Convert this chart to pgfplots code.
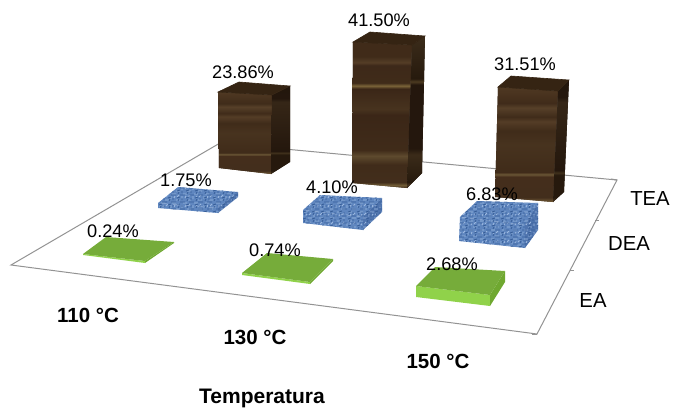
\documentclass[border=0pt]{standalone}
\usepackage{pgfplots}
\pgfplotsset{compat=1.18}
\usepackage{fontspec}
\setmainfont{Liberation Sans}
\usetikzlibrary{patterns}
\definecolor{grn}{HTML}{76AC3A}
\definecolor{grnl}{HTML}{90D24A}
\definecolor{grnd}{HTML}{6FA830}
\definecolor{blu}{HTML}{5F86BF}
\definecolor{blud}{HTML}{4F74AE}
\definecolor{blul}{HTML}{9DB9E0}
\definecolor{bluk}{HTML}{375E98}
\definecolor{topw}{HTML}{352413}
\definecolor{facew}{HTML}{332313}
\definecolor{sidew}{HTML}{1D1308}
\pgfdeclarepatternformonly{mottL}{\pgfqpoint{-1pt}{-1pt}}{\pgfqpoint{12pt}{10pt}}{\pgfqpoint{11pt}{9pt}}{
 \pgfsetlinewidth{0.9pt}
 \pgfpathmoveto{\pgfqpoint{0pt}{1pt}}\pgfpathlineto{\pgfqpoint{4pt}{1pt}}
 \pgfpathmoveto{\pgfqpoint{6pt}{2pt}}\pgfpathlineto{\pgfqpoint{6pt}{5pt}}
 \pgfpathmoveto{\pgfqpoint{1pt}{4pt}}\pgfpathlineto{\pgfqpoint{3pt}{6pt}}
 \pgfpathmoveto{\pgfqpoint{7pt}{7pt}}\pgfpathlineto{\pgfqpoint{11pt}{7pt}}
 \pgfpathmoveto{\pgfqpoint{9pt}{3pt}}\pgfpathlineto{\pgfqpoint{10pt}{5pt}}
 \pgfusepath{stroke}}
\pgfdeclarepatternformonly{mottD}{\pgfqpoint{-1pt}{-1pt}}{\pgfqpoint{10pt}{8pt}}{\pgfqpoint{9pt}{7pt}}{
 \pgfsetlinewidth{0.8pt}
 \pgfpathmoveto{\pgfqpoint{0pt}{3pt}}\pgfpathlineto{\pgfqpoint{5pt}{3pt}}
 \pgfpathmoveto{\pgfqpoint{2pt}{5pt}}\pgfpathlineto{\pgfqpoint{2pt}{7pt}}
 \pgfpathmoveto{\pgfqpoint{6pt}{0pt}}\pgfpathlineto{\pgfqpoint{9pt}{1pt}}
 \pgfpathmoveto{\pgfqpoint{7pt}{4pt}}\pgfpathlineto{\pgfqpoint{8pt}{6pt}}
 \pgfusepath{stroke}}
\pgfdeclareverticalshading{woodtall}{100bp}{
rgb(0bp)=(.22,.15,.09);rgb(3bp)=(.27,.19,.12);rgb(4bp)=(.36,.28,.18);rgb(5bp)=(.24,.16,.09);rgb(9bp)=(.28,.19,.12);rgb(10bp)=(.40,.32,.20);rgb(11bp)=(.25,.17,.10);rgb(15bp)=(.24,.16,.10);rgb(17bp)=(.32,.23,.14);rgb(19bp)=(.25,.17,.10);rgb(25bp)=(.27,.18,.11);rgb(26bp)=(.44,.36,.21);rgb(27bp)=(.26,.18,.11);rgb(33bp)=(.25,.17,.10);rgb(36bp)=(.37,.29,.18);rgb(38bp)=(.25,.17,.10);rgb(50bp)=(.23,.15,.09);rgb(52bp)=(.28,.20,.12);rgb(59bp)=(.23,.15,.09);rgb(60bp)=(.48,.39,.22);rgb(61bp)=(.25,.17,.10);rgb(67bp)=(.24,.16,.10);rgb(68bp)=(.33,.24,.15);rgb(70bp)=(.25,.17,.10);rgb(75bp)=(.25,.17,.10);rgb(76bp)=(.39,.30,.19);rgb(77bp)=(.24,.16,.10);rgb(80bp)=(.33,.24,.15);rgb(81bp)=(.24,.16,.10);rgb(85bp)=(.35,.26,.16);rgb(86bp)=(.25,.17,.10);rgb(90bp)=(.31,.22,.13);rgb(92bp)=(.24,.16,.10);rgb(100bp)=(.22,.15,.09)}
\pgfdeclareverticalshading{woodtallside}{100bp}{
rgb(0bp)=(.13,.08,.04);rgb(9bp)=(.15,.10,.05);rgb(10bp)=(.26,.19,.12);rgb(11bp)=(.14,.09,.05);rgb(25bp)=(.15,.10,.05);rgb(26bp)=(.28,.21,.13);rgb(27bp)=(.15,.10,.05);rgb(36bp)=(.23,.17,.10);rgb(38bp)=(.14,.09,.05);rgb(59bp)=(.14,.09,.05);rgb(60bp)=(.30,.23,.13);rgb(61bp)=(.15,.10,.05);rgb(76bp)=(.24,.18,.11);rgb(77bp)=(.14,.09,.05);rgb(85bp)=(.22,.16,.10);rgb(86bp)=(.15,.10,.05);rgb(100bp)=(.13,.08,.04)}
\pgfdeclareverticalshading{woodshort}{100bp}{
rgb(0bp)=(.25,.17,.10);rgb(6bp)=(.32,.24,.15);rgb(8bp)=(.25,.17,.10);rgb(14bp)=(.31,.22,.14);rgb(16bp)=(.25,.17,.10);rgb(24bp)=(.24,.16,.10);rgb(25bp)=(.46,.37,.22);rgb(27bp)=(.26,.18,.11);rgb(36bp)=(.27,.18,.11);rgb(37bp)=(.42,.34,.21);rgb(38bp)=(.25,.17,.10);rgb(50bp)=(.28,.20,.12);rgb(56bp)=(.25,.17,.10);rgb(60bp)=(.33,.24,.15);rgb(62bp)=(.25,.17,.10);rgb(66bp)=(.34,.25,.16);rgb(68bp)=(.25,.17,.10);rgb(76bp)=(.32,.23,.14);rgb(78bp)=(.25,.17,.10);rgb(86bp)=(.31,.22,.14);rgb(88bp)=(.24,.16,.10);rgb(100bp)=(.23,.15,.09)}
\pgfdeclareverticalshading{woodshortside}{100bp}{
rgb(0bp)=(.13,.08,.04);rgb(24bp)=(.15,.10,.05);rgb(25bp)=(.28,.21,.13);rgb(27bp)=(.15,.10,.05);rgb(36bp)=(.15,.10,.05);rgb(37bp)=(.25,.19,.11);rgb(38bp)=(.14,.09,.05);rgb(66bp)=(.21,.15,.09);rgb(68bp)=(.14,.09,.05);rgb(100bp)=(.13,.08,.04)}
\newcommand{\poly}[2]{\addplot[#1,draw=none,mark=none,forget plot] coordinates {#2} --cycle;}
\newcommand{\bluef}[2]{\addplot[fill=#1,draw=none,mark=none,forget plot] coordinates {#2} --cycle;
\addplot[pattern=mottL,pattern color=blul,draw=none,mark=none,forget plot] coordinates {#2} --cycle;
\addplot[pattern=mottD,pattern color=bluk,draw=none,mark=none,forget plot] coordinates {#2} --cycle;}
\begin{document}
\begin{tikzpicture}
\begin{axis}[scale only axis,width=673pt,height=408pt,xmin=0,xmax=673,ymin=0,ymax=408,y dir=reverse,hide axis,clip=false]
\path (axis cs:0,0) rectangle (axis cs:673,408);
% floor
\addplot[draw=gray!85!white,line width=1pt,mark=none,forget plot] coordinates {(220,143)(11,265)(537,334)(617,180)(220,143)};
\addplot[draw=gray!85!white,line width=1pt,mark=none,forget plot] coordinates {(537,334)(532,334)};
\addplot[draw=gray!85!white,line width=1pt,mark=none,forget plot] coordinates {(617,180)(611,179)};
\addplot[draw=gray!85!white,line width=1pt,mark=none,forget plot] coordinates {(595,220)(599,220)};
\addplot[draw=gray!85!white,line width=1pt,mark=none,forget plot] coordinates {(570,270)(574,270)};
% brown bars: values 23.86, 41.50, 31.51
\poly{fill=facew}{(218,92)(272,95)(271,174)(219,168)}
\poly{fill=sidew}{(272,95)(290,86)(290,162)(271,174)}
\poly{shading=woodshort}{(218,92)(272,95)(271,174)(219,168)}
\poly{shading=woodshortside}{(272,95)(290,86)(290,162)(271,174)}
\addplot[fill=topw,draw=topw,line width=.6pt,mark=none,forget plot] coordinates {(218,92)(272,95)(290,86)(239,82)} --cycle;
\poly{fill=facew}{(353,42)(412,45)(407,188)(352,183)}
\poly{fill=sidew}{(412,45)(425,36)(422,173)(407,188)}
\poly{shading=woodtall}{(353,42)(412,45)(407,188)(352,183)}
\poly{shading=woodtallside}{(412,45)(425,36)(422,173)(407,188)}
\addplot[fill=topw,draw=topw,line width=.6pt,mark=none,forget plot] coordinates {(353,42)(412,45)(425,36)(370,32)} --cycle;
\poly{fill=facew}{(498,87)(558,91)(553,202)(495,197)}
\poly{fill=sidew}{(558,91)(569,80)(564,192)(553,202)}
\poly{shading=woodshort}{(498,87)(558,91)(553,202)(495,197)}
\poly{shading=woodshortside}{(558,91)(569,80)(564,192)(553,202)}
\addplot[fill=topw,draw=topw,line width=.6pt,mark=none,forget plot] coordinates {(498,87)(558,91)(569,80)(511,76)} --cycle;
% blue bars: values 1.75, 4.10, 6.83
\bluef{blu}{(158,203)(178,187)(238,192)(218,208)}
\bluef{blu}{(158,203)(218,208)(218,213)(158,208)}
\bluef{blud}{(218,208)(238,192)(238,197)(218,213)}
\bluef{blu}{(303,210)(320,195)(382,198)(363,217)}
\bluef{blu}{(303,210)(363,217)(363,230)(303,223)}
\bluef{blud}{(363,217)(382,198)(382,212)(363,230)}
\bluef{blu}{(460,217)(477,201)(538,203)(525,225)}
\bluef{blu}{(460,217)(525,225)(525,248)(459,241)}
\bluef{blud}{(525,225)(538,203)(538,230)(525,248)}
% green bars: values 0.24, 0.74, 2.68
\poly{fill=grnl}{(83,254)(145,261)(145,263)(83,255)}
\poly{fill=grnd}{(145,261)(174,242)(174,243)(145,263)}
\poly{fill=grn}{(83,254)(106,237)(174,242)(145,261)}
\poly{fill=grnl}{(242,273)(310,282)(310,284)(242,275)}
\poly{fill=grnd}{(310,282)(333,259)(333,261)(310,284)}
\poly{fill=grn}{(242,273)(267,253)(333,259)(310,282)}
\poly{fill=grnl}{(416,286)(490,295)(490,306)(416,297)}
\poly{fill=grnd}{(490,295)(505,271)(505,282)(490,306)}
\poly{fill=grn}{(416,286)(435,267)(505,271)(490,295)}
% labels
\tikzset{v/.style={font=\fontsize{18.2}{18}\selectfont,inner sep=0pt,text=black},
 a/.style={font=\fontsize{20.3}{20}\selectfont,inner sep=0pt,text=black},
 b/.style={font=\fontsize{20.5}{20}\selectfont\bfseries,inner sep=0pt,text=black}}
\node[v] at (axis cs:243,72) {23.86\%};
\node[v] at (axis cs:379,20) {41.50\%};
\node[v] at (axis cs:525,64) {31.51\%};
\node[v] at (axis cs:186,180) {1.75\%};
\node[v] at (axis cs:332,187) {4.10\%};
\node[v] at (axis cs:492,194) {6.83\%};
\node[v] at (axis cs:113,231) {0.24\%};
\node[v] at (axis cs:275,250) {0.74\%};
\node[v] at (axis cs:452,264) {2.68\%};
\node[a] at (axis cs:650,199) {TEA};
\node[a] at (axis cs:629,244) {DEA};
\node[a] at (axis cs:593,301) {EA};
\node[b] at (axis cs:88,315) {110 °C};
\node[b] at (axis cs:255,337) {130 °C};
\node[b] at (axis cs:438,361) {150 °C};
\node[font=\fontsize{21}{21}\selectfont\bfseries,inner sep=0pt] at (axis cs:262,398) {Temperatura};
\end{axis}
\end{tikzpicture}
\end{document}
